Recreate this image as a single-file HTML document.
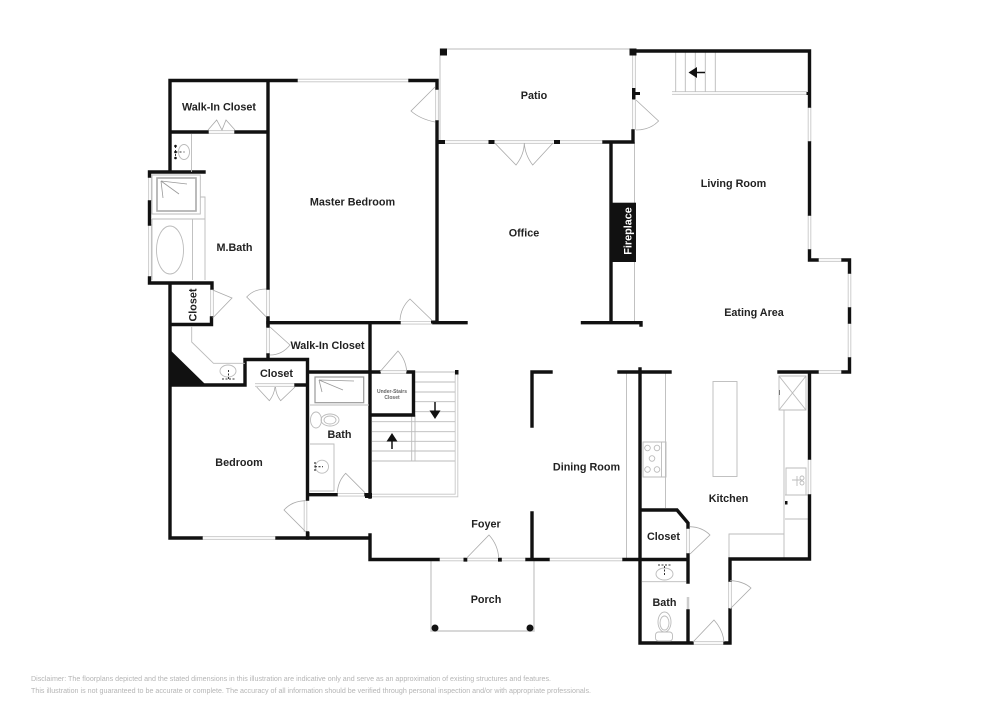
<!DOCTYPE html>
<html><head><meta charset="utf-8"><style>
html,body{margin:0;padding:0;background:#fff;width:1000px;height:707px;overflow:hidden}
svg{display:block;filter:blur(.35px)}
text{font-family:"Liberation Sans",sans-serif}
.l{font-size:10.8px;font-weight:bold;fill:#222;text-anchor:middle}
.w{stroke:#111;stroke-width:3.4;fill:none;stroke-linecap:square}
.g{stroke:#bbb;stroke-width:.9;fill:none}
.f{stroke:#c4c4c4;stroke-width:3.5;fill:none}
.fi{stroke:#fff;stroke-width:1.8;fill:none}
.d{stroke:#aaa;stroke-width:.8;fill:none}
.k{fill:#111;stroke:none}
</style></head><body>
<svg width="1000" height="707" viewBox="0 0 1000 707" xmlns="http://www.w3.org/2000/svg">
<!-- windows -->
<path class="f" d="M297 80.5H410M150 177V201M150 224V277M208 132H235M212 288V318M268 288V317M268 327V355M437 88V122M202 538H276M439 559.5H526M549 559.5H623M445 142H603M634 54V88M634 100V130M809.5 107V142M809.5 215V250M818 260H842M849.5 273V308M849.5 323V358M818 372H842M809.5 459V495M337 494.7H365M400 322.7H433M379 372H407M688 528V554M730 581V609M693 643H724M305.5 500V532M255 385H295" />
<path class="fi" d="M297 80.5H410M150 177V201M150 224V277M208 132H235M212 288V318M268 288V317M268 327V355M437 88V122M202 538H276M439 559.5H526M549 559.5H623M445 142H603M634 54V88M634 100V130M809.5 107V142M809.5 215V250M818 260H842M849.5 273V308M849.5 323V358M818 372H842M809.5 459V495M337 494.7H365M400 322.7H433M379 372H407M688 528V554M730 581V609M693 643H724M305.5 500V532M255 385H295"/>
<path class="f" d="M672 93H807M456.5 372V495.5H372"/>
<path class="fi" d="M672 93H807M456.5 372V495.5H372"/>
<path d="M688 597V610" stroke="#ccc" stroke-width="2.5" fill="none"/>
<!-- light lines -->
<path class="g" d="M440 142V49H633M634.5 142V322M626.5 372V559M665.5 372V508M784 410V559M785 495H808M785 519H808M729 559V534H784M642 581.7H686"/>
<path d="M431 559V631H534V559" fill="none" stroke="#ccc" stroke-width="1.4"/>
<path class="g" d="M675.7 52V92M685.3 52V92M695.3 52V92M705.3 52V92M715.3 52V92"/>
<path class="g" d="M415 382H455M415 392H455M415 401.7H455M415 411.7H455M372 421.7H455M372 431.7H455M372 441.3H455M372 451H455M372 461H455M411.7 415V461M415 415V461M415 372H456"/>
<!-- walls -->
<path class="w" d="M170 80.5V171M170 80.5H296M410 80.5H437V88M268 80.5V288M170 132H207M236 132H268M149.5 172H204M149.5 172V176M149.5 202V224M149.5 278V283H212V288M211.5 318V324.5H170V285M170 324V538H201M277 538H370V535M370 538V559.5H438M268 318V326M268 355V359"/>
<path class="w" d="M437 122V322.5M268 322.7H399M434 322.7H466M370 322.7V497M245 385H171M245 385V359.5H307.5M307.5 385H296M307.5 359.5V499M307.5 533V538M308 372H379M408 372H413.5V415H371M308 494.7H336M366 494.7H370"/>
<path class="w" d="M633 51H809.5V106M809.5 143V214M809.5 251V260H817M843 260H849.5V272M849.5 309V322M849.5 359V372H843M817 372H779M809.5 372V458M809.5 496V559H730V580M730 610V643H725M692 643H640V369M619 372H670M640 510H677L688 523V527M688 555V582M688 611V642M640 559.5H688M624 559.5H640M527 559.5H548M532 513V559.5M532 426V372H551M611 143V322.5M582.5 322.7H641V325M604 142H633V131"/>
<rect class="k" x="610" y="202.7" width="26" height="59.3"/>
<!-- posts -->
<path class="k" d="M440 48.5h7v7h-7zM629.5 48.5h7v7h-7zM437 140h8v4h-8zM488.5 140h6v4h-6zM554 140h6v4h-6zM632 88h3.5v11.500H632zM635 92h5v3h-5zM463.5 557.8h3.800v3.800h-3.800zM498 557.8h3.800v3.800h-3.800zM455 370h3.500v4.500H455zM365 493h7v5h-7zM306 532h3.500v5H306zM266.3 317h3.300v10h-3.300zM431 320.5h5v3h-5zM785 501h2.500v3.500H785zM806.5 92h3v3h-3z"/>
<circle class="k" cx="435" cy="628" r="3.5"/><circle class="k" cx="530" cy="628" r="3.5"/>
<path class="k" d="M171 350.7L204.5 383.5H171z"/>
<!-- doors -->
<path class="d" d="M435 87L411 111Q420 119 435 122M266 316.7L246.7 297Q254 289 266 289M431.7 320L410 299Q401 307 400 320M270 327L290 345Q282 355 270 355M212.7 290L232 298L212.7 318M208 130L216.7 120L222 130L226 120L235 130M256.7 387L269.3 400.7Q274 395 275 387M275.500 387Q276 395 280.700 400.700L295 387M380 371.700L398 351Q406 360 406.700 371.700M365 492.700L345.700 473.300Q338 481 337.300 492.700M305.700 531.700L284 510Q292 501 305.700 500.700M466.700 558L489 535Q498 545 498.700 558M495 143.300L516 165Q524 155 524.300 143Q525 155 532.700 165L553 143M636 100L658.600 121Q650 130 636 130M690 554L710 535Q702 527 690 526.700M730 609L751 588Q743 581 730 580.700M693 642L714 620Q723 630 724 642"/>
<!-- m.bath fixtures -->
<path class="g" d="M191.500 134V172M152 175H200.300V214H152zM200 197H205V219H152M205 219V280M192.500 219V280M152 219V280"/>
<rect x="157" y="178" width="39" height="33" fill="none" stroke="#aaa" stroke-width="1.6"/>
<path d="M161 181L187 184M161 181L163 198M161 181L179 194" stroke="#999" stroke-width=".8" fill="none"/>
<ellipse class="g" cx="170" cy="250" rx="13.5" ry="24"/>
<ellipse class="g" cx="184" cy="152" rx="5.5" ry="7.5"/>
<path d="M175.500 146v12M175.500 152h9" stroke="#333" stroke-width="1" stroke-dasharray="2 2" fill="none"/>
<circle class="k" cx="175.500" cy="146" r="1.3"/><circle class="k" cx="175.500" cy="158" r="1.3"/><circle class="k" cx="175.500" cy="152" r="1.3"/>
<path class="g" d="M191.700 326V342L213.500 363.300H245"/>
<ellipse class="g" cx="228" cy="371" rx="8" ry="6"/>
<path d="M222 379h13M228.500 370v9" stroke="#333" stroke-width="1" stroke-dasharray="2 1.5" fill="none"/>
<!-- bath -->
<rect x="315" y="377" width="48.7" height="25.7" fill="none" stroke="#999" stroke-width="1.2"/>
<path class="g" d="M310 405H369M310 444H334V491H310"/>
<path d="M319 380L354 381M319 380L322 392M319 380L343 390" stroke="#999" stroke-width=".8" fill="none"/>
<ellipse class="g" cx="316" cy="420" rx="5.5" ry="8"/>
<ellipse class="g" cx="330" cy="420" rx="9" ry="6"/><ellipse class="g" cx="330" cy="420" rx="6" ry="4"/>
<circle class="g" cx="322" cy="466.7" r="6.5"/>
<path d="M315 462v10M315 466.700h8" stroke="#333" stroke-width="1.2" stroke-dasharray="2 1.5" fill="none"/>
<!-- arrows -->
<path d="M435 402V412" stroke="#111" stroke-width="1.5"/><path class="k" d="M429.500 410.500H440.500L435 419z"/>
<path d="M392 440V449" stroke="#111" stroke-width="1.5"/><path class="k" d="M386.500 441.500H397.500L392 433z"/>
<path d="M696 72.500H705" stroke="#111" stroke-width="1.5"/><path class="k" d="M697 67V78L688.500 72.500z"/>
<!-- kitchen -->
<rect class="g" x="713" y="381.5" width="24" height="95"/>
<path class="g" d="M779 376H806V410H779zM779 376L806 410M806 376L779 410M643 442H666V477H643zM661.500 442V477M786 468H806V495H786z"/>
<g class="g"><circle cx="647.5" cy="448" r="2.8"/><circle cx="657" cy="448" r="2.8"/><circle cx="652" cy="458.5" r="2.8"/><circle cx="647.5" cy="469.5" r="2.8"/><circle cx="657" cy="469.5" r="2.8"/></g>
<path class="g" d="M792 480h10M797 476v10"/><circle class="g" cx="802" cy="478" r="2"/><circle class="g" cx="802" cy="483" r="2"/>
<path d="M779.500 390v5" stroke="#777" stroke-width="1"/>
<ellipse class="g" cx="664.5" cy="574" rx="8.5" ry="6"/>
<path d="M658 565h13M664.500 566v10" stroke="#333" stroke-width="1" stroke-dasharray="2 1.5" fill="none"/>
<ellipse class="g" cx="664.5" cy="622" rx="6.5" ry="10"/><ellipse class="g" cx="664.5" cy="623" rx="4.5" ry="7"/>
<rect class="g" x="655.5" y="632" width="17" height="9" rx="3"/>
<!-- labels -->
<text class="l" x="219" y="110.5">Walk-In Closet</text>
<text class="l" x="352.5" y="205.5">Master Bedroom</text>
<text class="l" x="234.5" y="251">M.Bath</text>
<text class="l" x="327.5" y="349">Walk-In Closet</text>
<text class="l" x="276.5" y="377">Closet</text>
<text class="l" x="239" y="466">Bedroom</text>
<text class="l" x="339.5" y="438">Bath</text>
<text class="l" x="534" y="99">Patio</text>
<text class="l" x="524" y="236.5">Office</text>
<text class="l" x="733.5" y="187">Living Room</text>
<text class="l" x="754" y="316">Eating Area</text>
<text class="l" x="586.5" y="470.5">Dining Room</text>
<text class="l" x="728.5" y="502">Kitchen</text>
<text class="l" x="663.5" y="540">Closet</text>
<text class="l" x="664.5" y="606">Bath</text>
<text class="l" x="486" y="527.5">Foyer</text>
<text class="l" x="486" y="603">Porch</text>
<text class="l" transform="translate(192.5 305) rotate(-90)" y="4">Closet</text>
<text class="l" transform="translate(627.5 231) rotate(-90)" y="4" style="fill:#fff">Fireplace</text>
<text x="392" y="393" font-size="5" font-weight="bold" fill="#666" text-anchor="middle">Under-Stairs</text>
<text x="392" y="399" font-size="5" font-weight="bold" fill="#666" text-anchor="middle">Closet</text>
<text x="31" y="681" font-size="7" fill="#b5b5b5" textLength="520" lengthAdjust="spacingAndGlyphs">Disclaimer: The floorplans depicted and the stated dimensions in this illustration are indicative only and serve as an approximation of existing structures and features.</text>
<text x="31" y="693" font-size="7" fill="#b5b5b5" textLength="560" lengthAdjust="spacingAndGlyphs">This illustration is not guaranteed to be accurate or complete. The accuracy of all information should be verified through personal inspection and/or with appropriate professionals.</text>
</svg>
</body></html>
